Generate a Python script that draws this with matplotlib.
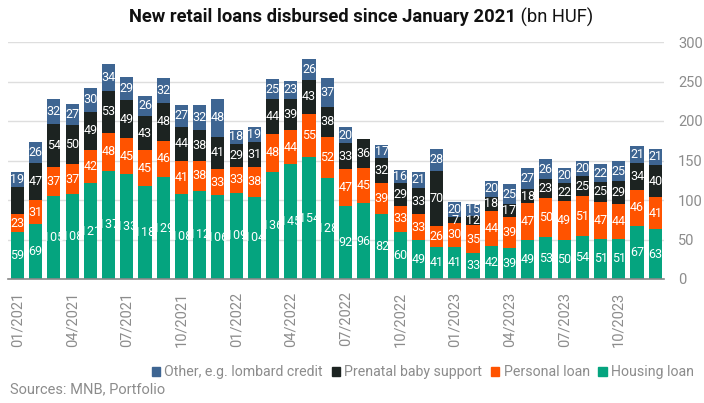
import numpy as np
import matplotlib
matplotlib.use("Agg")
import matplotlib.pyplot as plt
from matplotlib.patches import Patch

plt.rcParams['font.family'] = ['Roboto', 'DejaVu Sans']

# monthly values, 01/2021 .. 12/2023 (bn HUF)
months = [f"{m:02d}/{y}" for y in (2021, 2022, 2023) for m in range(1, 13)]
housing = [59, 69, 105, 108, 121, 137, 133, 118, 129, 108, 112, 106,
           109, 104, 136, 145, 154, 128, 92, 96, 82, 60, 49, 41,
           41, 33, 42, 39, 49, 53, 50, 54, 51, 51, 67, 63]
personal = [23, 31, 37, 37, 42, 48, 45, 45, 46, 41, 38, 33,
            33, 38, 48, 44, 55, 52, 47, 45, 39, 33, 33, 26,
            30, 35, 44, 39, 47, 50, 49, 51, 47, 44, 46, 41]
prenatal = [35, 47, 54, 50, 49, 53, 49, 43, 48, 44, 38, 41,
            29, 31, 44, 39, 43, 38, 33, 36, 32, 29, 33, 70,
            7, 12, 18, 17, 18, 23, 22, 25, 25, 29, 34, 40]
other = [19, 26, 32, 27, 30, 34, 29, 26, 32, 27, 32, 48,
         18, 19, 25, 23, 26, 37, 20, 0, 17, 16, 21, 28,
         20, 15, 20, 25, 27, 26, 20, 20, 22, 25, 21, 21]

series = [
    ("Housing loan", housing, "#05a47f"),
    ("Personal loan", personal, "#ff5300"),
    ("Prenatal baby support", prenatal, "#1c2321"),
    ("Other, e.g. lombard credit", other, "#3e6592"),
]
# segment labels missing in the source chart (series index, month index)
hidden_labels = {(2, 0)}

grey = "#8c8c8c"

fig = plt.figure(figsize=(7.04, 4.03), dpi=100)
ax = fig.add_axes([8 / 704, 1 - 279 / 403, 656 / 704, 237 / 403])

x = np.arange(len(months))
bottom = np.zeros(len(months))
for si, (name, vals, col) in enumerate(series):
    vals = np.array(vals, dtype=float)
    bars = ax.bar(x, vals, bottom=bottom, width=0.72, color=col, zorder=2)
    for i, (rect, v) in enumerate(zip(bars, vals)):
        if v <= 0 or (si, i) in hidden_labels:
            continue
        t = ax.text(rect.get_x() + rect.get_width() / 2, bottom[i] + v / 2,
                    f"{int(v)}", ha="center", va="center", color="white",
                    fontsize=9, zorder=3)
        t.set_clip_path(rect)
    bottom += vals

ax.set_xlim(-0.52, len(months) - 0.52)
ax.set_ylim(0, 300)
ax.set_yticks(range(0, 301, 50))
ax.yaxis.tick_right()
ax.tick_params(axis="y", length=0, pad=10, labelsize=10.5, labelcolor=grey)
for lab in ax.get_yticklabels():
    lab.set_ha("left")
ax.grid(axis="y", color="#dedede", linewidth=1, zorder=0)

ax.set_xticks(x[::3])
ax.set_xticklabels(months[::3], rotation=90, ha="center", va="top")
ax.tick_params(axis="x", length=0, pad=9, labelsize=10.5, labelcolor=grey)

for s in ("top", "left", "right"):
    ax.spines[s].set_visible(False)
ax.spines["bottom"].set_color("#888888")
ax.spines["bottom"].set_linewidth(1.2)
ax.spines["bottom"].set_zorder(4)

fig.text(516 / 704, 1 - 17 / 403, "New retail loans disbursed since January 2021",
         ha="right", va="center", fontsize=13.2, fontweight="bold", color="#111111")
fig.text(516 / 704, 1 - 17 / 403, " (bn HUF)", ha="left", va="center",
         fontsize=13.2, color="#111111")

handles = [Patch(color=col, label=name) for name, vals, col in series[::-1]]
fig.legend(handles=handles, loc="center right", bbox_to_anchor=(694 / 704, 1 - 372 / 403),
           ncol=4, frameon=False, fontsize=10.2, labelcolor=grey,
           handlelength=0.6, handleheight=0.6, handletextpad=0.3,
           columnspacing=0.6, borderpad=0, borderaxespad=0)

fig.text(10 / 704, 1 - 389 / 403, "Sources: MNB, Portfolio", ha="left",
         va="center", fontsize=10.5, color=grey)

fig.savefig("out.png", dpi=100)
